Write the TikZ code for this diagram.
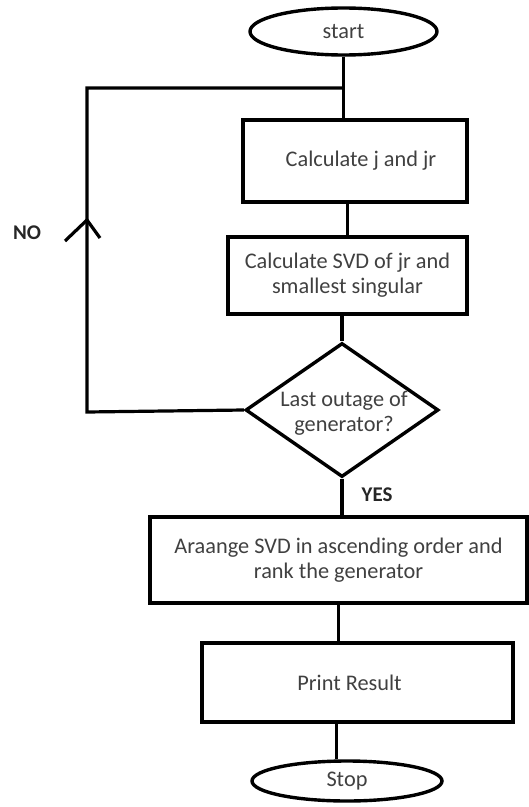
\documentclass[tikz,border=0pt]{standalone}
\usepackage{fontspec}
\setmainfont{Carlito}
\usepackage{xcolor}
\usetikzlibrary{positioning,shapes.geometric,calc}
\definecolor{txtgray}{RGB}{64,64,64}
\tikzset{
  procbox/.style={rectangle, draw=black, line width=3.6bp, align=center,
    text=txtgray, inner sep=0pt},
  termnode/.style={ellipse, draw=black, line width=3.4bp, text=txtgray,
    inner sep=0pt},
  decision/.style={diamond, draw=black, line width=3.4bp, inner sep=0pt,
    minimum width=193bp, minimum height=134bp},
  conn/.style={line width=3.2bp},
  answer/.style={font=\bfseries\fontsize{21}{24}\selectfont, text=black!85},
}
\begin{document}
\begin{tikzpicture}[x=1bp, y=-1bp, font=\fontsize{22.4}{25}\selectfont]
  \useasboundingbox (0,0) rectangle (529,807);

  \node[termnode, minimum width=187bp, minimum height=47bp] (start) at (343.5,31.5) {start};
  \node[procbox, minimum width=224bp, minimum height=82bp] (calcj) at (355,161) {\hspace*{12bp}Calculate j and jr};
  \node[procbox, minimum width=239bp, minimum height=77bp] (calcsvd) at (347.5,275.5)
    {Calculate SVD of jr and\\smallest singular};
  \node[decision] (last) at (342,410) {};
  \node[text=txtgray, align=center, inner sep=0pt] (lasttxt) at (344,413) {Last outage of\\generator?};
  \node[procbox, minimum width=377bp, minimum height=86bp] (arrange) at (338.5,560)
    {Araange SVD in ascending order and\\rank the generator};
  \node[procbox, minimum width=311bp, minimum height=79bp] (print) at (357.5,682.5) {Print Result\hspace*{16bp}};
  \node[termnode, minimum width=190bp, minimum height=40bp] (stop) at (347,781) {Stop};

  % main flow
  \draw[conn] (start.south) -- (start.south |- calcj.north);
  \draw[conn] (calcj.south -| calcsvd.north) -- (calcsvd.north);
  \draw[conn] (calcsvd.south -| last.north) -- (last.north);
  \draw[conn] (last.south) -- (last.south |- arrange.north);
  \draw[conn] (arrange.south) -- (arrange.south |- print.north);
  \coordinate (pbot) at ([xshift=-21bp]print.south);
  \draw[conn] (pbot) -- (pbot |- stop.north);

  % loop back
  \coordinate (loopbl) at (87,412);
  \coordinate (looptl) at (87,88);
  \coordinate (noarr) at (87,220);
  \draw[conn] (last.west) -- (loopbl) -- (looptl) -- (start.south |- looptl);
  \draw[conn] ($(noarr)+(-22,21)$) -- (noarr) -- ($(noarr)+(13,18)$);

  \node[answer] (no) at (27,233) {NO};
  \node[answer] (yes) at (377,495) {YES};
\end{tikzpicture}
\end{document}
